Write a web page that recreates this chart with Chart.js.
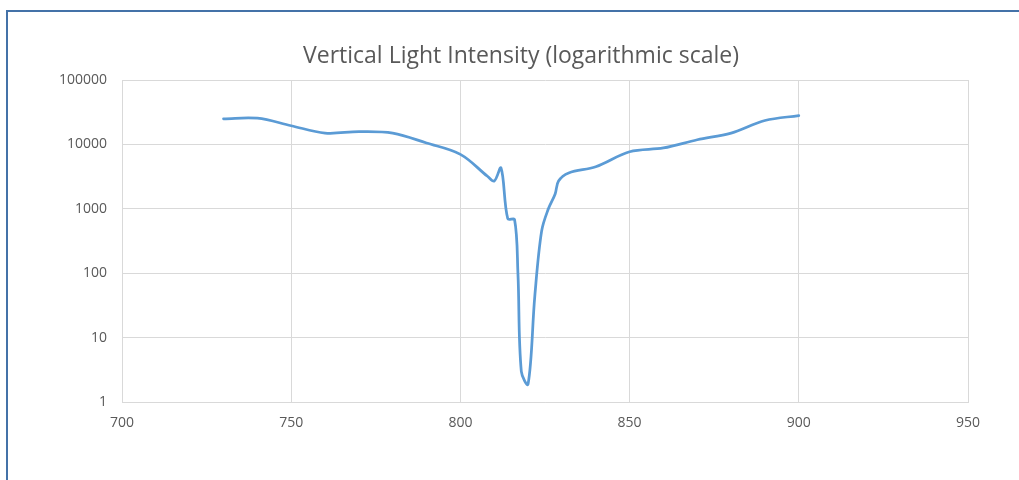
<!DOCTYPE html>
<html>
<head>
<meta charset="utf-8">
<script src="https://cdn.jsdelivr.net/npm/chart.js@4.4.1/dist/chart.umd.min.js"></script>
<style>
	html, body { margin: 0; padding: 0; background: #ffffff; }
	#frame {
		position: absolute;
		left: 6px; top: 10px;
		width: 1013px; height: 470px;
		border-top: 2px solid #4472a8;
		border-left: 2px solid #4472a8;
	}
	#chart { position: absolute; left: 0; top: 0; }
</style>
</head>
<body>
<div id="frame"></div>
<canvas id="chart" width="1019" height="480"></canvas>
<script>
var wavelengths = [730, 740, 750, 760, 770, 780, 790, 800, 808, 810, 812, 814, 816, 817, 818, 820, 822, 824, 826, 828, 829, 832, 840, 850, 860, 870, 880, 890, 900];
var intensity   = [25000, 25500, 19500, 15000, 15800, 15000, 10500, 7000, 3200, 2700, 4300, 700, 680, 100, 3, 1.9, 45, 450, 1000, 1700, 2700, 3600, 4500, 7700, 8800, 11800, 15000, 23500, 28000];

var xTicks = [700, 750, 800, 850, 900, 950];
var yTicks = [1, 10, 100, 1000, 10000, 100000];

var chartTitle = "Vertical Light Intensity (logarithmic scale)";

var textColor = "#595959";
var gridColor = "#d9d9d9";
var fontFamily = "'Open Sans', 'Liberation Sans', sans-serif";

var points = [];
for (var i = 0; i < wavelengths.length; i++) {
	points.push({ x: wavelengths[i], y: intensity[i] });
}

// the original title is not centred on the canvas, so draw it ourselves
var titlePlugin = {
	id: 'offsetTitle',
	afterDraw: function(chart) {
		var c = chart.ctx;
		c.save();
		c.fillStyle = textColor;
		c.font = "normal 23px " + fontFamily;
		c.textAlign = "center";
		c.textBaseline = "middle";
		c.fillText(chartTitle, 521, 56);
		c.restore();
	}
};

var ctx = document.getElementById("chart");
var myChart = new Chart(ctx, {
	type: 'scatter',
	data: {
		datasets: [{
			label: 'Intensity',
			data: points,
			showLine: true,
			borderColor: '#5b9bd5',
			backgroundColor: '#5b9bd5',
			borderWidth: 2.75,
			pointRadius: 0,
			pointHoverRadius: 0,
			tension: 0.35,
			borderCapStyle: 'round'
		}]
	},
	plugins: [titlePlugin],
	options: {
		responsive: false,
		animation: false,
		layout: { padding: { left: 0, right: 51, top: 80, bottom: 0 } },
		plugins: {
			legend: { display: false },
			tooltip: { enabled: false },
			title: { display: false }
		},
		scales: {
			x: {
				type: 'linear',
				min: 700,
				max: 950,
				afterBuildTicks: function(scale) {
					scale.ticks = xTicks.map(function(v) { return { value: v }; });
				},
				afterFit: function(scale) { scale.height = 78; },
				grid: { color: gridColor, lineWidth: 1, drawTicks: false },
				border: { color: gridColor },
				ticks: {
					color: textColor,
					padding: 13,
					maxRotation: 0,
					font: { family: fontFamily, size: 14 }
				}
			},
			y: {
				type: 'logarithmic',
				min: 1,
				max: 100000,
				afterBuildTicks: function(scale) {
					scale.ticks = yTicks.map(function(v) { return { value: v }; });
				},
				afterFit: function(scale) { scale.width = 122; },
				grid: { color: gridColor, lineWidth: 1, drawTicks: false },
				border: { color: gridColor },
				ticks: {
					color: textColor,
					padding: 15,
					font: { family: fontFamily, size: 14 },
					callback: function(value) { return String(value); }
				}
			}
		}
	}
});
</script>
</body>
</html>
